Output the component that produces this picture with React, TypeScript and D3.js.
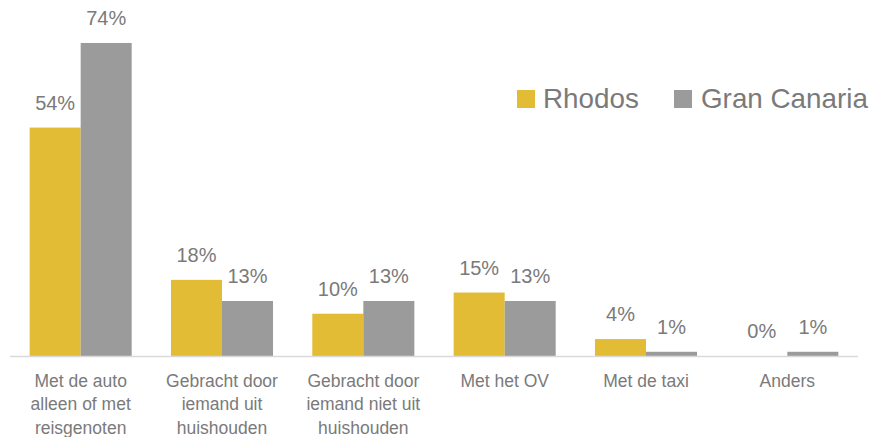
import React from "react";
import * as d3 from "d3";

const categories = [
  "Met de auto\nalleen of met\nreisgenoten",
  "Gebracht door\niemand uit\nhuishouden",
  "Gebracht door\niemand niet uit\nhuishouden",
  "Met het OV",
  "Met de taxi",
  "Anders",
];
const seriesNames = ["Rhodos", "Gran Canaria"];
const rhodos = [54, 18, 10, 15, 4, 0];
const granCanaria = [74, 13, 13, 13, 1, 1];
const colors = ["#E2BC35", "#9B9B9B"];

const W = 870;
const H = 437;
const FONT = "'Liberation Sans', Arial, sans-serif";
const TEXT = "#7A7A7A";

export default function App() {
  const values = [rhodos, granCanaria];
  const x0 = d3
    .scaleBand<string>()
    .domain(categories)
    .range([10, 858])
    .paddingInner(0.278)
    .paddingOuter(0.139);
  const x1 = d3
    .scaleBand<string>()
    .domain(seriesNames)
    .range([0, x0.bandwidth()]);
  const y = d3.scaleLinear().domain([0, 80]).range([356, 17.6]);

  return (
    <svg
      width={W}
      height={H}
      style={{ position: "absolute", left: 0, top: 0, background: "#fff" }}
      fontFamily={FONT}
    >
      {categories.map((c, i) => (
        <g key={c + i}>
          {seriesNames.map((s, j) => {
            const v = values[j][i];
            const bx = (x0(c) ?? 0) + (x1(s) ?? 0);
            const bw = x1.bandwidth();
            return (
              <g key={s}>
                <rect
                  x={bx}
                  y={y(v)}
                  width={bw}
                  height={y(0) - y(v)}
                  fill={colors[j]}
                />
                <text
                  x={bx + bw / 2}
                  y={y(v) - 18}
                  textAnchor="middle"
                  fontSize={20}
                  fill={TEXT}
                >
                  {v + "%"}
                </text>
              </g>
            );
          })}
        </g>
      ))}
      <line x1={10} x2={858} y1={356.5} y2={356.5} stroke="#D9D9D9" strokeWidth={1.5} />
      {categories.map((c, i) => {
        const cx = (x0(c) ?? 0) + x0.bandwidth() / 2;
        return (
          <text key={"l" + i} textAnchor="middle" fontSize={17.5} fill={TEXT}>
            {c.split("\n").map((line, k) => (
              <tspan key={k} x={cx} y={386.5 + k * 23.8}>
                {line}
              </tspan>
            ))}
          </text>
        );
      })}
      <g>
        <rect x={517} y={90} width={18} height={18} fill={colors[0]} />
        <text x={543} y={107.5} fontSize={27.8} fill={TEXT}>
          {seriesNames[0]}
        </text>
        <rect x={674} y={90} width={18} height={18} fill={colors[1]} />
        <text x={701} y={107.5} fontSize={27.8} fill={TEXT}>
          {seriesNames[1]}
        </text>
      </g>
    </svg>
  );
}
